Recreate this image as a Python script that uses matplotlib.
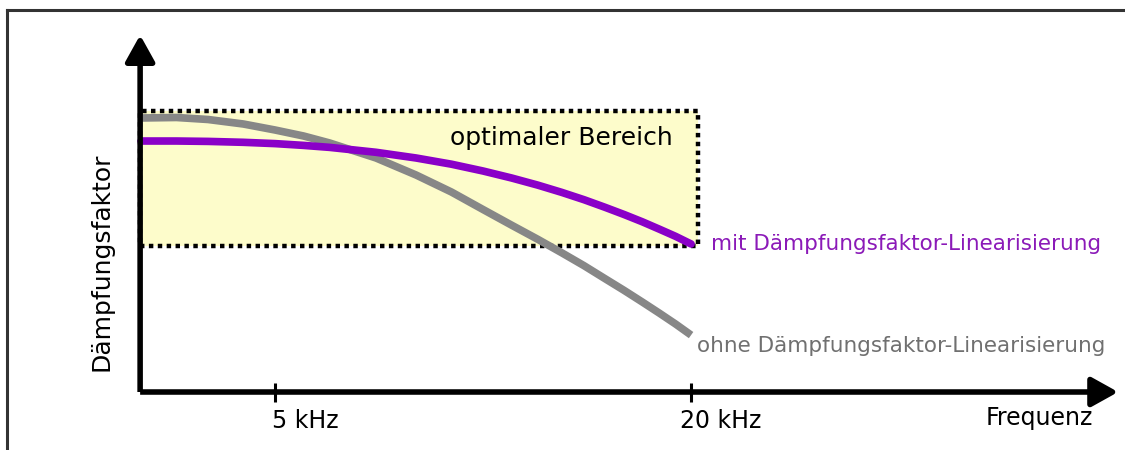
"""Dämpfungsfaktor über Frequenz, mit und ohne Linearisierung.
Speichert out.png.
"""
import matplotlib.pyplot as plt
from matplotlib.lines import Line2D
from matplotlib.patches import Rectangle

# Frequenz in kHz (log. Achse), Dämpfungsfaktor in relativen Einheiten
freq_khz = [3.2, 3.6, 4, 4.5, 5, 5.5, 6, 7, 8, 9, 10, 11, 12, 13, 14,
            15, 16, 17, 18, 19, 20]
mit_lin = [71.71, 71.71, 71.60, 71.34, 70.97, 70.46, 69.89, 68.49, 66.86,
           65.09, 63.14, 61.14, 59.11, 57.03, 54.94, 52.80, 50.71, 48.63,
           46.51, 44.46, 42.29]
ohne_lin = [78.29, 78.43, 77.86, 76.57, 74.86, 73.14, 71.14, 66.86, 62.00,
            57.14, 52.14, 47.66, 43.63, 39.77, 36.09, 32.43, 29.03, 25.71,
            22.51, 19.40, 16.26]

tick_khz = [5, 20]
tick_labels = ["5 kHz", "20 kHz"]

# optimaler Bereich
box_x = (3.19, 20.5)
box_y = (41.6, 80.3)

x_origin = 3.19
x_end = 83.0
y_top = 102.0

PURPLE = "#8a00c8"
PURPLE_TXT = "#8b1ab8"
GRAY = "#878787"
GRAY_TXT = "#707070"

plt.rcParams["font.family"] = ["DejaVu Sans"]

fig = plt.figure(figsize=(11.25, 4.5), dpi=100)
ax = fig.add_axes([0, 0, 1, 1])
ax.set_xscale("log")
ax.set_xlim(2.0, 84.9)
ax.set_ylim(-16.57, 112)
ax.axis("off")

# Rahmen (links und oben)
fig.add_artist(Line2D([0.0062, 0.0062], [0, 0.978], transform=fig.transFigure,
                      color="#333333", lw=2.2))
fig.add_artist(Line2D([0.0062, 1.0], [0.978, 0.978], transform=fig.transFigure,
                      color="#333333", lw=2.2))

# optimaler Bereich
ax.add_patch(Rectangle((box_x[0], box_y[0]), box_x[1] - box_x[0], box_y[1] - box_y[0],
                       facecolor="#fdfccb", edgecolor="black", lw=3.2,
                       linestyle=(0, (1, 1)), zorder=1))
ax.annotate("optimaler Bereich", xy=(box_x[1], box_y[1]), xytext=(-18.5, -19.5),
            textcoords="offset points", ha="right", va="center", fontsize=18)

# Kurven
ax.plot(freq_khz, ohne_lin, color=GRAY, lw=5.5, solid_capstyle="butt",
        solid_joinstyle="round", zorder=3)
ax.plot(freq_khz, mit_lin, color=PURPLE, lw=5.5, solid_capstyle="round",
        solid_joinstyle="round", zorder=4)

ax.annotate("mit Dämpfungsfaktor-Linearisierung", xy=(freq_khz[-1], mit_lin[-1]),
            xytext=(14.5, 0), textcoords="offset points", ha="left", va="center",
            fontsize=15.5, color=PURPLE_TXT)
ax.annotate("ohne Dämpfungsfaktor-Linearisierung", xy=(freq_khz[-1], ohne_lin[-1]),
            xytext=(4, -8), textcoords="offset points", ha="left", va="center",
            fontsize=15.5, color=GRAY_TXT)

# Achsen mit Pfeilen
arrow = dict(arrowstyle="-|>,head_length=0.9,head_width=0.5", lw=4, color="black",
             mutation_scale=18, shrinkA=0, shrinkB=0, capstyle="butt")
ax.annotate("", xy=(x_end, 0), xytext=(x_origin, 0), arrowprops=arrow, zorder=5)
ax.annotate("", xy=(x_origin, y_top), xytext=(x_origin, 0), arrowprops=arrow, zorder=5)

for f, lab in zip(tick_khz, tick_labels):
    ax.plot([f, f], [2.6, -2.9], color="black", lw=2.2, solid_capstyle="butt", zorder=5)
    ax.annotate(lab, xy=(f, 0), xytext=(21.5, -21), textcoords="offset points",
                ha="center", va="center", fontsize=17)

ax.annotate("Frequenz", xy=(x_end, 0), xytext=(-18, -18.5), textcoords="offset points",
            ha="right", va="center", fontsize=17)
ax.annotate("Dämpfungsfaktor", xy=(x_origin, 37.1), xytext=(-27.5, 0),
            textcoords="offset points", ha="center", va="center", rotation=90,
            fontsize=18)

fig.savefig("out.png", dpi=100)
print("Saved out.png")
